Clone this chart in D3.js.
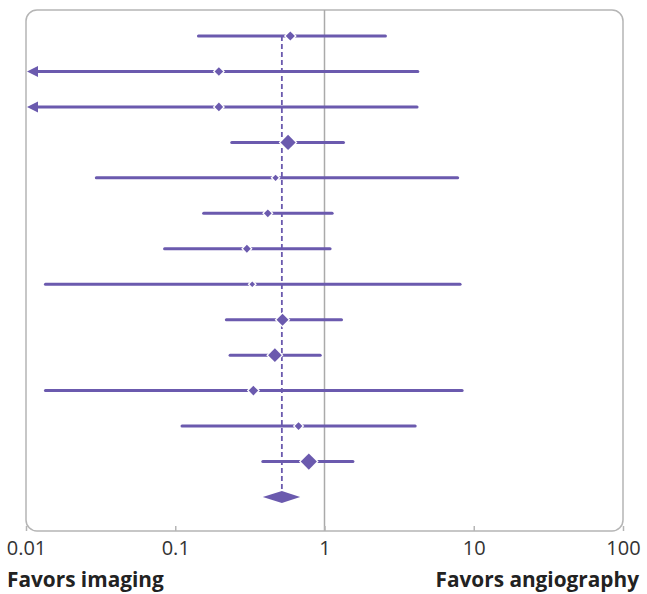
<!DOCTYPE html>
<html>
<head>
<meta charset="utf-8">
<script src="https://cdn.jsdelivr.net/npm/d3@7"></script>
<style>
  body { margin: 0; background: #fff; }
  svg { display: block; }
  .tick text { font-family: "Open Sans", sans-serif; font-size: 20px; fill: #333; }
  .side-label { font-family: "Open Sans", sans-serif; font-size: 20.8px; font-weight: 700; fill: #222; }
</style>
</head>
<body>
<div id="chart"></div>
<script>
// Odds ratios per study (top to bottom)
const estimates = [0.59, 0.196, 0.196, 0.57, 0.47, 0.417, 0.302, 0.328, 0.523, 0.465, 0.334, 0.67, 0.785];
const lowerCI   = [0.143, null, null, 0.239, 0.0296, 0.155, 0.0848, 0.0135, 0.22, 0.233, 0.0135, 0.111, 0.386];
const upperCI   = [2.56, 4.22, 4.17, 1.34, 7.8, 1.125, 1.09, 8.1, 1.30, 0.936, 8.36, 4.05, 1.55];
const weights   = [4.6, 4.3, 4.3, 7.6, 3.2, 3.9, 3.9, 2.8, 6, 6.8, 4.8, 3.9, 8.1];
// Pooled estimate
const pooled = { est: 0.518, lo: 0.386, hi: 0.687 };
const tickValues = [0.01, 0.1, 1, 10, 100];
const tickLabels = ['0.01', '0.1', '1', '10', '100'];

const width = 647, height = 594;
const box = { left: 26, right: 623, top: 10, bottom: 531 };
const purple = '#6b5aae';

const svg = d3.select('#chart').append('svg')
    .attr('width', width)
    .attr('height', height);

const x = d3.scaleLog()
    .domain([0.01, 100])
    .range([box.left, box.right]);

const y = d3.scalePoint()
    .domain(d3.range(estimates.length + 1))
    .range([36, 497]);

// frame
svg.append('rect')
    .attr('x', box.left)
    .attr('y', box.top)
    .attr('width', box.right - box.left)
    .attr('height', box.bottom - box.top)
    .attr('rx', 11)
    .attr('fill', 'none')
    .attr('stroke', '#b5b5b5')
    .attr('stroke-width', 1.5);

// line of no effect
svg.append('line')
    .attr('x1', x(1)).attr('x2', x(1))
    .attr('y1', box.top).attr('y2', box.bottom)
    .attr('stroke', '#aaa')
    .attr('stroke-width', 1.5);

// axis
const axis = svg.append('g')
    .attr('transform', `translate(0,${box.bottom})`)
    .call(d3.axisBottom(x)
        .tickValues(tickValues)
        .tickFormat((d, i) => tickLabels[i])
        .tickSizeInner(-5)
        .tickSizeOuter(0)
        .tickPadding(10));
axis.select('.domain').remove();
axis.selectAll('.tick line').attr('stroke', '#b5b5b5').attr('stroke-width', 1.5);

// pooled estimate dashed line
svg.append('line')
    .attr('x1', x(pooled.est)).attr('x2', x(pooled.est))
    .attr('y1', y(0)).attr('y2', y(estimates.length))
    .attr('stroke', purple)
    .attr('stroke-width', 1.8)
    .attr('stroke-dasharray', '5,3');

const rows = estimates.map((est, i) => ({ est, lo: lowerCI[i], hi: upperCI[i], w: weights[i], i }));

// confidence intervals
svg.append('g').selectAll('line')
    .data(rows)
    .join('line')
    .attr('x1', d => d.lo == null ? box.left + 8 : x(d.lo))
    .attr('x2', d => x(d.hi))
    .attr('y1', d => y(d.i))
    .attr('y2', d => y(d.i))
    .attr('stroke', purple)
    .attr('stroke-width', 3)
    .attr('stroke-linecap', 'round');

// arrows for intervals running off the scale
svg.append('g').selectAll('path')
    .data(rows.filter(d => d.lo == null))
    .join('path')
    .attr('d', d => {
        const x0 = box.left + 1, yy = y(d.i);
        return `M${x0},${yy}L${x0 + 11},${yy - 5.5}L${x0 + 11},${yy + 5.5}Z`;
    })
    .attr('fill', purple);

const diamond = (cx, cy, r) => `M${cx - r},${cy}L${cx},${cy - r}L${cx + r},${cy}L${cx},${cy + r}Z`;

// study markers: white halo, then the marker itself
const markers = svg.append('g');
markers.selectAll('path.halo')
    .data(rows)
    .join('path')
    .attr('class', 'halo')
    .attr('d', d => diamond(x(d.est), y(d.i), d.w + 1.8))
    .attr('fill', '#fff');
markers.selectAll('path.mark')
    .data(rows)
    .join('path')
    .attr('class', 'mark')
    .attr('d', d => diamond(x(d.est), y(d.i), d.w))
    .attr('fill', purple);

// pooled diamond
const py = y(estimates.length);
svg.append('path')
    .attr('d', `M${x(pooled.lo)},${py}L${x(pooled.est)},${py - 6}L${x(pooled.hi)},${py}L${x(pooled.est)},${py + 6}Z`)
    .attr('fill', purple);

// side labels
svg.append('text')
    .attr('class', 'side-label')
    .attr('x', 7)
    .attr('y', 587)
    .text('Favors imaging');

svg.append('text')
    .attr('class', 'side-label')
    .attr('x', 639)
    .attr('y', 587)
    .attr('text-anchor', 'end')
    .text('Favors angiography');
</script>
</body>
</html>
